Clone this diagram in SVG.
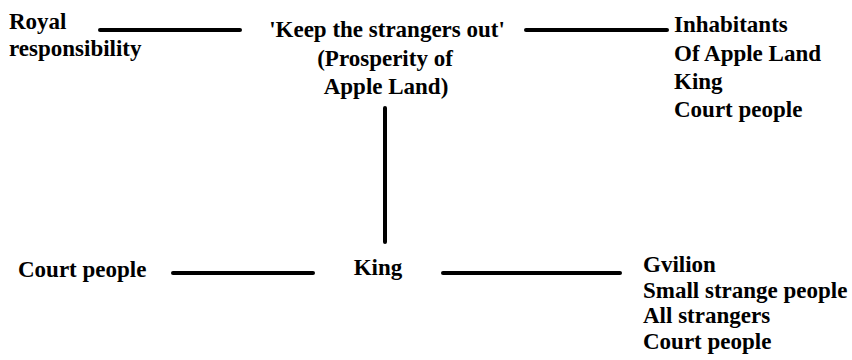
<svg xmlns="http://www.w3.org/2000/svg" width="852" height="360" viewBox="0 0 852 360">
<rect width="852" height="360" fill="#fff"/>
<g id="connectors" stroke="#000" stroke-width="4" stroke-linecap="round" fill="none">
<line x1="100" y1="30" x2="240" y2="30"/>
<line x1="526" y1="30" x2="667" y2="30"/>
<line x1="385" y1="108" x2="385" y2="242"/>
<line x1="173" y1="273" x2="313" y2="273"/>
<line x1="443" y1="273" x2="620" y2="273"/>
</g>
<g font-family="Liberation Serif,serif" font-weight="bold" font-size="23" fill="#000">
<g id="royal">
<text x="9" y="29">Royal</text>
<text x="9" y="56">responsibility</text>
</g>
<g id="keep" text-anchor="middle">
<text x="387" y="37">&#39;Keep the strangers out&#39;</text>
<text x="385" y="66">(Prosperity of</text>
<text x="386" y="94">Apple Land)</text>
</g>
<g id="inhabitants">
<text x="674" y="32">Inhabitants</text>
<text x="674" y="61">Of Apple Land</text>
<text x="674" y="89">King</text>
<text x="674" y="117">Court people</text>
</g>
<g id="court">
<text x="18" y="277">Court people</text>
</g>
<g id="king" text-anchor="middle">
<text x="378" y="275">King</text>
</g>
<g id="gvilion">
<text x="643" y="272">Gvilion</text>
<text x="643" y="298">Small strange people</text>
<text x="643" y="323">All strangers</text>
<text x="643" y="349">Court people</text>
</g>
</g>
</svg>
